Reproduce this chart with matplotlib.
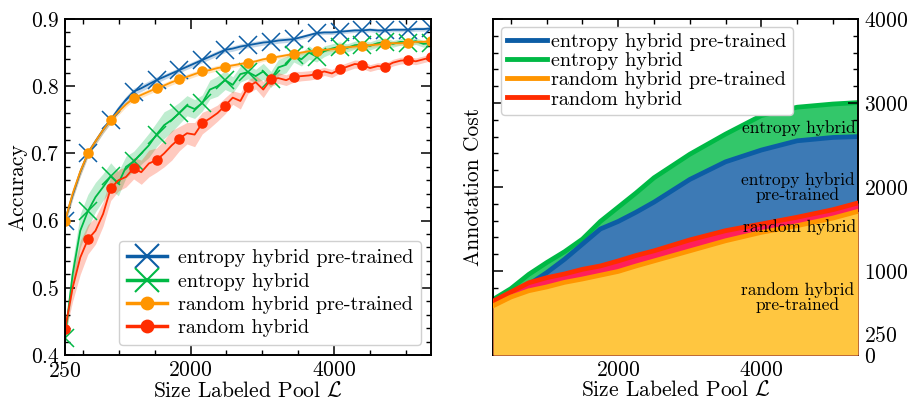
import numpy as np
import matplotlib
matplotlib.use("Agg")
import matplotlib.pyplot as plt
from matplotlib.lines import Line2D
from matplotlib.ticker import MultipleLocator

plt.rcParams['font.family'] = ['cmr10', 'DejaVu Serif']
plt.rcParams['mathtext.fontset'] = 'cm'
plt.rcParams['axes.formatter.use_mathtext'] = True

# --- accuracy curves (left) ---
pool = np.linspace(250, 5350, 49)

acc_ent_pre = [0.600, 0.638, 0.672, 0.700, 0.718, 0.735, 0.750, 0.766, 0.780, 0.792,
               0.797, 0.803, 0.809, 0.814, 0.819, 0.824, 0.829, 0.834, 0.839, 0.844,
               0.849, 0.854, 0.856, 0.859, 0.861, 0.863, 0.865, 0.866, 0.868, 0.869,
               0.870, 0.873, 0.876, 0.879, 0.880, 0.880, 0.881, 0.882, 0.883, 0.883,
               0.884, 0.883, 0.883, 0.884, 0.884, 0.884, 0.885, 0.885, 0.886]
acc_ent = [0.426, 0.520, 0.585, 0.614, 0.635, 0.650, 0.666, 0.655, 0.680, 0.688,
           0.700, 0.712, 0.728, 0.742, 0.750, 0.760, 0.771, 0.766, 0.775, 0.795,
           0.800, 0.809, 0.802, 0.818, 0.821, 0.815, 0.822, 0.810, 0.828, 0.832,
           0.846, 0.840, 0.850, 0.844, 0.852, 0.856, 0.859, 0.857, 0.861, 0.862,
           0.860, 0.864, 0.866, 0.863, 0.866, 0.865, 0.867, 0.863, 0.864]
acc_rnd_pre = [0.600, 0.640, 0.673, 0.700, 0.718, 0.735, 0.750, 0.762, 0.773, 0.782,
               0.787, 0.792, 0.797, 0.801, 0.806, 0.810, 0.814, 0.818, 0.822, 0.824,
               0.827, 0.829, 0.831, 0.833, 0.835, 0.837, 0.840, 0.842, 0.844, 0.846,
               0.848, 0.850, 0.852, 0.853, 0.854, 0.855, 0.856, 0.858, 0.859, 0.860,
               0.861, 0.862, 0.863, 0.864, 0.864, 0.865, 0.866, 0.866, 0.867]
acc_rnd = [0.438, 0.500, 0.545, 0.572, 0.585, 0.610, 0.648, 0.660, 0.665, 0.678,
           0.672, 0.685, 0.690, 0.700, 0.712, 0.722, 0.730, 0.728, 0.745, 0.752,
           0.760, 0.771, 0.783, 0.778, 0.799, 0.806, 0.795, 0.810, 0.812, 0.809,
           0.814, 0.815, 0.816, 0.818, 0.822, 0.819, 0.825, 0.829, 0.833, 0.832,
           0.827, 0.830, 0.829, 0.835, 0.838, 0.839, 0.837, 0.840, 0.843]

# std bands
std_ent_pre = [0.006, 0.006, 0.006, 0.005, 0.005, 0.005, 0.005, 0.005, 0.005, 0.005,
               0.005, 0.005, 0.005, 0.004, 0.004, 0.004, 0.004, 0.004, 0.004, 0.004,
               0.004, 0.004, 0.004, 0.004, 0.004, 0.004, 0.004, 0.004, 0.004, 0.004,
               0.003, 0.003, 0.003, 0.003, 0.003, 0.003, 0.003, 0.003, 0.003, 0.003,
               0.003, 0.003, 0.003, 0.003, 0.003, 0.003, 0.003, 0.003, 0.003]
std_ent = [0.010, 0.020, 0.025, 0.025, 0.022, 0.020, 0.020, 0.018, 0.016, 0.015,
           0.016, 0.018, 0.018, 0.020, 0.018, 0.016, 0.015, 0.014, 0.012, 0.014,
           0.015, 0.014, 0.012, 0.012, 0.010, 0.010, 0.012, 0.012, 0.012, 0.012,
           0.010, 0.010, 0.010, 0.008, 0.008, 0.007, 0.007, 0.006, 0.006, 0.006,
           0.006, 0.006, 0.006, 0.005, 0.005, 0.005, 0.005, 0.005, 0.005]
std_rnd_pre = [0.008, 0.008, 0.007, 0.006, 0.005, 0.005, 0.005, 0.005, 0.004, 0.004,
               0.004, 0.004, 0.004, 0.004, 0.004, 0.004, 0.004, 0.004, 0.004, 0.004,
               0.004, 0.004, 0.003, 0.003, 0.003, 0.003, 0.003, 0.003, 0.003, 0.003,
               0.003, 0.003, 0.003, 0.003, 0.003, 0.003, 0.003, 0.003, 0.003, 0.003,
               0.003, 0.003, 0.003, 0.003, 0.003, 0.003, 0.003, 0.003, 0.003]
std_rnd = [0.008, 0.020, 0.025, 0.022, 0.020, 0.018, 0.018, 0.016, 0.015, 0.016,
           0.018, 0.020, 0.018, 0.020, 0.022, 0.018, 0.016, 0.018, 0.016, 0.014,
           0.012, 0.012, 0.010, 0.012, 0.010, 0.010, 0.012, 0.010, 0.008, 0.008,
           0.008, 0.007, 0.007, 0.007, 0.006, 0.006, 0.006, 0.006, 0.006, 0.006,
           0.005, 0.005, 0.005, 0.005, 0.005, 0.005, 0.005, 0.005, 0.005]

# --- annotation cost (right) ---
cost_pool = [250, 500, 750, 1000, 1250, 1500, 1750, 2000, 2250, 2500, 3000, 3500, 4000, 4500, 5000, 5350]
cost_ent = [660, 790, 960, 1100, 1230, 1380, 1590, 1760, 1930, 2110, 2390, 2630, 2850, 2950, 2988, 3005]
cost_ent_pre = [640, 720, 840, 980, 1140, 1320, 1500, 1590, 1700, 1820, 2090, 2300, 2440, 2550, 2590, 2600]
cost_rnd = [640, 750, 860, 920, 965, 1020, 1060, 1120, 1185, 1240, 1370, 1480, 1560, 1640, 1730, 1810]
cost_rnd_pre = [585, 690, 765, 810, 865, 905, 950, 995, 1060, 1120, 1240, 1360, 1460, 1540, 1630, 1710]

labels = ['entropy hybrid pre-trained', 'entropy hybrid', 'random hybrid pre-trained', 'random hybrid']
colors = ['#0C5DA5', '#00B945', '#FF9500', '#FF2C00']
markers = ['x', 'x', 'o', 'o']
msizes = [13, 13, 6.5, 6.5]

fig = plt.figure(figsize=(9.07, 4.03), dpi=100)
ax1 = fig.add_axes([65/907, 48/403, 366/907, 336/403])
ax2 = fig.add_axes([493/907, 48/403, 365/907, 336/403])

fs = 15.5
for ax in (ax1, ax2):
    ax.tick_params(which='both', direction='in', top=True, right=True, labelsize=fs)
    ax.tick_params(which='major', length=7, width=1.1, pad=4)
    ax.tick_params(which='minor', length=3.5, width=1.0)
    for s in ax.spines.values():
        s.set_linewidth(1.4)
    ax.set_xlim(250, 5350)
    ax.xaxis.set_minor_locator(MultipleLocator(500))
    ax.set_xlabel(r'Size Labeled Pool $\mathcal{L}$', fontsize=fs, labelpad=0)

series = [(acc_ent_pre, std_ent_pre), (acc_ent, std_ent), (acc_rnd_pre, std_rnd_pre), (acc_rnd, std_rnd)]
for (y, sd), c, m, ms in zip(series, colors, markers, msizes):
    y = np.array(y)
    sd = np.array(sd)
    ax1.fill_between(pool, y - sd, y + sd, color=c, alpha=0.25, lw=0)
    ax1.plot(pool, y, color=c, lw=1.3, marker=m, ms=ms, mew=1.1, markevery=3)

ax1.set_ylim(0.4, 0.9)
ax1.set_xticks([250, 2000, 4000])
ax1.yaxis.set_major_locator(MultipleLocator(0.1))
ax1.yaxis.set_minor_locator(MultipleLocator(0.02))
ax1.set_ylabel('Accuracy', fontsize=fs, labelpad=2)

handles = [Line2D([], [], color=c, lw=2.5, marker=m, ms=ms * 1.3, mew=1.5)
           for c, m, ms in zip(colors, markers, msizes)]
ax1.legend(handles, labels, loc='lower right', fontsize=14.5, handlelength=2.0,
           labelspacing=0.25, handletextpad=0.5, borderaxespad=0.5, framealpha=1,
           edgecolor='#d0d0d0')

# right: overlapping cost areas
fills = ['#33C76A', '#3D7AB5', '#FF1F5B', '#FFC640']
costs = [cost_ent, cost_ent_pre, cost_rnd, cost_rnd_pre]
line_cols = [colors[1], colors[0], colors[3], colors[2]]
for k, (yc, fc, lc) in enumerate(zip(costs, fills, line_cols)):
    ax2.fill_between(cost_pool, 0, yc, color=fc, lw=0, zorder=1 + k)
    ax2.plot(cost_pool, yc, color=lc, lw=3.4, zorder=1.5 + k)

ax2.set_ylim(0, 4000)
ax2.set_xticks([2000, 4000])
ax2.set_yticks([0, 250, 1000, 2000, 3000, 4000])
ax2.yaxis.set_minor_locator(MultipleLocator(200))
ax2.tick_params(labelleft=False, labelright=True)
ax2.set_ylabel('Annotation Cost', fontsize=fs)

tfs = 12.5
ax2.text(5320, 2700, 'entropy hybrid', fontsize=tfs, ha='right', va='center', zorder=10)
ax2.text(4510, 1990, 'entropy hybrid\npre-trained', fontsize=tfs, ha='center', va='center',
         multialignment='center', linespacing=0.95, zorder=10)
ax2.text(5320, 1527, 'random hybrid', fontsize=tfs, ha='right', va='center', zorder=10)
ax2.text(4510, 685, 'random hybrid\npre-trained', fontsize=tfs, ha='center', va='center',
         multialignment='center', linespacing=0.95, zorder=10)

h2 = [Line2D([], [], color=c, lw=3.5) for c in colors]
leg2 = ax2.legend(h2, labels, loc='upper left', fontsize=14.5, handlelength=2.0,
                  labelspacing=0.05, handletextpad=0.2, borderaxespad=0.4, borderpad=0.3,
                  framealpha=1, edgecolor='#d0d0d0')
leg2.set_zorder(20)

fig.savefig('out.png', dpi=100)
